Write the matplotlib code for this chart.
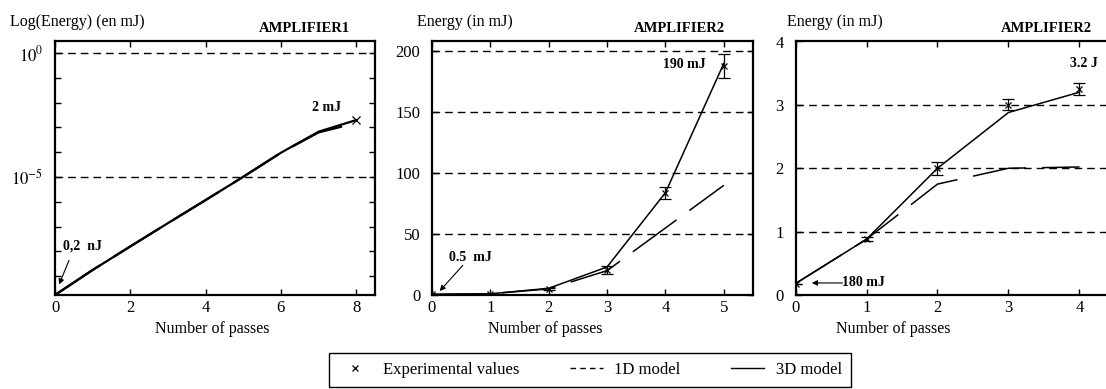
import matplotlib
matplotlib.use('Agg')
import matplotlib.pyplot as plt
from matplotlib.lines import Line2D
import numpy as np

plt.rcParams['font.family'] = ['Liberation Serif', 'DejaVu Serif']
plt.rcParams['mathtext.fontset'] = 'stix'
plt.rcParams['lines.scale_dashes'] = False

# Amplifier 1 (log scale, energies in mJ, stored as exponents)
passes1 = [0, 1, 2, 3, 4, 5, 6, 7, 8]
amp1_3d_log = [-9.76, -8.75, -7.8, -6.86, -5.93, -4.99, -4.02, -3.17, -2.70]
amp1_1d_log = [-9.76, -8.75, -7.8, -6.86, -5.93, -4.99, -4.02, -3.2, -2.82]
amp1_exp_x = [8]
amp1_exp_log = [-2.70]

# Amplifier 2, first run (mJ)
passes2 = [0, 1, 2, 3, 4, 5]
amp2_3d = [0.5, 1.0, 5.5, 23, 84, 190]
amp2_1d = [0.5, 1.0, 5.0, 20, 55, 90]
amp2_exp = [0.5, 1.0, 5.0, 20.5, 84, 188]
amp2_err = [0, 0, 1.0, 3.0, 5.0, 10.0]

# Amplifier 2, second run
passes3 = [0, 1, 2, 3, 4]
amp3_3d = [0.18, 0.88, 2.0, 2.88, 3.2]
amp3_1d = [0.18, 0.88, 1.75, 2.0, 2.02]
amp3_exp = [0.18, 0.88, 2.0, 3.0, 3.25]
amp3_err = [0, 0.03, 0.1, 0.085, 0.1]

W, H = 1106, 389
fig = plt.figure(figsize=(W / 100, H / 100), dpi=100)


def px_axes(left, right, top=41.5, bottom=295):
    return fig.add_axes([left / W, 1 - bottom / H, (right - left) / W, (bottom - top) / H])


ax1 = px_axes(55, 375)
ax2 = px_axes(432, 753)
ax3 = px_axes(795.5, 1115)

grid_kw = dict(color='k', lw=1.0, dashes=(5.5, 3.6), zorder=1)
long_dash = (38.9, 11.5)

for ax in (ax1, ax2, ax3):
    for s in ax.spines.values():
        s.set_linewidth(1.6)
    ax.tick_params(direction='in', top=True, right=True, length=4, width=1.0,
                   labelsize=12, colors='k')
    ax.tick_params(axis='x', pad=3.5)
    ax.tick_params(axis='y', pad=8.5)
    ax.tick_params(which='minor', length=0)

# ---- panel 1
ax1.set_yscale('log')
ax1.plot(passes1, 10.0 ** np.array(amp1_1d_log), color='k', lw=1.6, dashes=long_dash)
ax1.plot(passes1, 10.0 ** np.array(amp1_3d_log), color='k', lw=1.6)
ax1.plot(amp1_exp_x, 10.0 ** np.array(amp1_exp_log), 'kx', ms=6, mew=0.9)
for v in (0, -5):
    ax1.axhline(10.0 ** v, **grid_kw)
ax1.set_xlim(0, 8.5)
ax1.set_ylim(10 ** -9.76, 10 ** 0.47)
ax1.set_xticks([0, 2, 4, 6, 8])
dec = np.arange(-9, 1)
ax1.set_yticks(10.0 ** dec)
ax1.set_yticklabels(['$10^{%d}$' % d if d in (0, -5) else '' for d in dec])
ax1.text(0.72, 10 ** -7.78, '0,2  nJ', fontsize=10, fontweight='bold', ha='center', va='center')
ax1.annotate('', xy=(0.08, 10 ** -9.44), xytext=(0.4, 10 ** -8.26),
             arrowprops=dict(arrowstyle='-|>', color='k', lw=0.8, mutation_scale=8))
ax1.text(7.2, 10 ** -2.2, '2 mJ', fontsize=10, fontweight='bold', ha='center', va='center')

# ---- panel 2
ax2.plot(passes2, amp2_1d, color='k', lw=1.1, dashes=long_dash)
ax2.plot(passes2, amp2_3d, color='k', lw=1.1)
ax2.errorbar(passes2, amp2_exp, yerr=amp2_err, fmt='x', color='k', ms=5, mew=0.9,
             elinewidth=0.9, capsize=4, capthick=0.9)
for v in (50, 100, 150, 200):
    ax2.axhline(v, **grid_kw)
ax2.set_xlim(0, 5.5)
ax2.set_ylim(0, 208)
ax2.set_xticks(range(6))
ax2.set_yticks([0, 50, 100, 150, 200])
ax2.text(0.65, 31, '0.5  mJ', fontsize=10, fontweight='bold', ha='center', va='center')
ax2.annotate('', xy=(0.1, 1.6), xytext=(0.56, 26),
             arrowprops=dict(arrowstyle='-|>', color='k', lw=0.8, mutation_scale=8))
ax2.text(4.32, 189, '190 mJ', fontsize=10, fontweight='bold', ha='center', va='center')

# ---- panel 3
ax3.plot(passes3, amp3_1d, color='k', lw=1.1, dashes=long_dash)
ax3.plot(passes3, amp3_3d, color='k', lw=1.1)
ax3.errorbar(passes3, amp3_exp, yerr=amp3_err, fmt='x', color='k', ms=5, mew=0.9,
             elinewidth=0.9, capsize=4, capthick=0.9)
for v in (1, 2, 3):
    ax3.axhline(v, **grid_kw)
ax3.set_xlim(0, 4.5)
ax3.set_ylim(0, 4)
ax3.set_xticks(range(5))
ax3.set_yticks(range(5))
ax3.text(0.66, 0.19, '180 mJ', fontsize=10, fontweight='bold', ha='left', va='center')
ax3.annotate('', xy=(0.23, 0.19), xytext=(0.66, 0.19),
             arrowprops=dict(arrowstyle='-|>', color='k', lw=0.8, mutation_scale=8,
                             shrinkA=0, shrinkB=0))

ax3.text(4.06, 3.66, '3.2 J', fontsize=10, fontweight='bold', ha='center', va='center')

# ---- figure texts
def ftext(x, y, s, **kw):
    fig.text(x / W, 1 - y / H, s, **kw)


ftext(10, 22, 'Log(Energy) (en mJ)', fontsize=11.5, ha='left', va='center')
ftext(417, 22, 'Energy (in mJ)', fontsize=11.5, ha='left', va='center')
ftext(787, 22, 'Energy (in mJ)', fontsize=11.5, ha='left', va='center')
ftext(304, 29, 'AMPLIFIER1', fontsize=10.5, fontweight='bold', ha='center', va='center')
ftext(679, 29, 'AMPLIFIER2', fontsize=10.5, fontweight='bold', ha='center', va='center')
ftext(1046, 29, 'AMPLIFIER2', fontsize=10.5, fontweight='bold', ha='center', va='center')
for xc in (212, 545, 893):
    ftext(xc, 329, 'Number of passes', fontsize=11.5, ha='center', va='center')

handles = [Line2D([], [], ls='none', marker='x', color='k', ms=5, mew=0.9),
           Line2D([], [], color='k', lw=1.0, dashes=(4, 3)),
           Line2D([], [], color='k', lw=1.0)]
labels = ['Experimental values', '1D model', '3D model']
leg = fig.legend(handles, labels, loc='center', bbox_to_anchor=(590 / W, 1 - 370 / H),
                 ncol=3, frameon=True, fancybox=False, edgecolor='k', framealpha=1,
                 fontsize=12, columnspacing=3.0, handlelength=2.0, borderpad=0.55,
                 handletextpad=0.7)
leg.get_frame().set_linewidth(1.0)

fig.savefig('out.png', dpi=100)
